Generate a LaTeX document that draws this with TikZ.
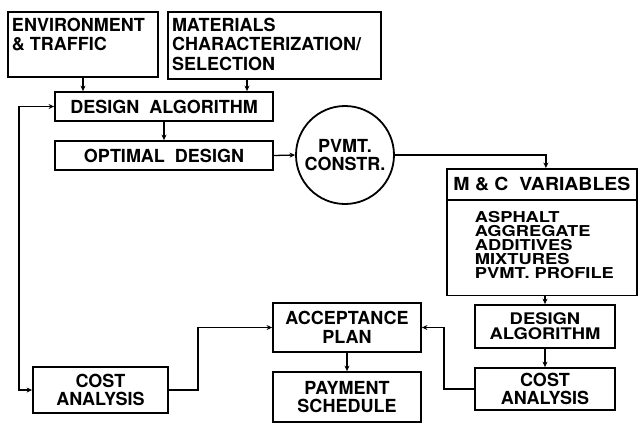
\documentclass[tikz,border=0pt]{standalone}
\usepackage{fontspec}
\setmainfont{TeX Gyre Heros}
\newfontfamily\mywidefont[FakeStretch=1.15]{TeX Gyre Heros}
\newfontfamily\myhdfont[FakeStretch=1.08]{TeX Gyre Heros}
\newfontfamily\myxwidefont[FakeStretch=1.22]{TeX Gyre Heros}
\usetikzlibrary{arrows.meta,shapes.multipart}
\newcommand{\mybigfont}{\fontsize{18}{18.5}\selectfont\bfseries}
\newcommand{\mycompactfont}{\mywidefont\fontsize{16}{15}\selectfont\bfseries}
\newcommand{\mylistfont}{\myxwidefont\fontsize{15}{14.2}\selectfont\bfseries}
\begin{document}
\begin{tikzpicture}[x=1pt,y=-1pt,
  >={Stealth[length=5.5pt,width=5pt]},
  box/.style={draw, line width=1.8pt, inner sep=0pt, align=center, font=\mybigfont},
  conn/.style={line width=1.3pt, ->},
]
\useasboundingbox (0,0) rectangle (638,424);

% top row
\node[box, minimum width=150, minimum height=65] (env) at (83,44.5)
  {\parbox[c][53pt][t]{142pt}{\raggedright\fontsize{18}{19.5}\selectfont ENVIRONMENT\\\& TRAFFIC}};
\node[box, minimum width=213, minimum height=67] (mat) at (274.5,45.5)
  {\parbox[c][55pt][t]{205pt}{\raggedright\fontsize{18}{19.5}\selectfont MATERIALS\\CHARACTERIZATION/\\SELECTION}};

\node[box, minimum width=218, minimum height=29] (da1) at (164,106.5) {DESIGN\ \ ALGORITHM};
\node[box, minimum width=218, minimum height=29] (od) at (164,155.5) {OPTIMAL\ \ DESIGN};
\node[box, circle, minimum size=98] (pv) at (345,155) {\fontsize{18}{17.5}\selectfont PVMT.\\CONSTR.};

% M & C variables
\node[draw, line width=1.8pt, rectangle split, rectangle split parts=2, inner sep=0pt, anchor=north west] (mc) at (446,168)
  {\parbox[c][29pt][c]{190pt}{\centering\myhdfont\fontsize{18}{18.5}\selectfont\bfseries M \& C\ \ VARIABLES}%
   \nodepart{two}\parbox[c][94pt][c]{190pt}{\raggedright\leftskip=28pt\mylistfont ASPHALT\\AGGREGATE\\ADDITIVES\\MIXTURES\\PVMT. PROFILE\par\vspace*{5pt}}};

\node[box, minimum width=140, minimum height=43, font=\mycompactfont] (da2) at (545,326.5) {DESIGN\\ALGORITHM};
\node[box, minimum width=140, minimum height=42] (ca2) at (545,389) {\fontsize{18}{17.5}\selectfont COST\\ANALYSIS};

\node[box, minimum width=148, minimum height=49] (ap) at (347,327.5) {\fontsize{18}{19}\selectfont ACCEPTANCE\\PLAN};
\node[box, minimum width=148, minimum height=50] (ps) at (347,397) {PAYMENT\\SCHEDULE};
\node[box, minimum width=135, minimum height=46] (ca1) at (100.5,390) {COST\\ANALYSIS};

% connectors
\draw[conn] (env.south) -- (env.south |- da1.north);
\draw[conn] ([xshift=-27.5pt]mat.south) -- ([xshift=-27.5pt]mat.south |- da1.north);
\draw[conn] (da1.south) -- (od.north);
\draw[conn] (od.east) -- (pv.west);
\draw[conn] (pv.east) -| ([xshift=4pt]mc.north);
\draw[conn] (da2.north |- mc.south) -- (da2.north);
\draw[conn] (da2.south) -- (ca2.north);
\draw[conn] (ca2.west) -- ++(-30,0) |- (ap.east);
\draw[conn] (ca1.east) -- ++(29,0) |- (ap.west);
\draw[conn] (ap.south) -- (ps.north);
\draw[line width=1.3pt, <->] (da1.west) -- ++(-35,0) |- (ca1.west);
\end{tikzpicture}
\end{document}
